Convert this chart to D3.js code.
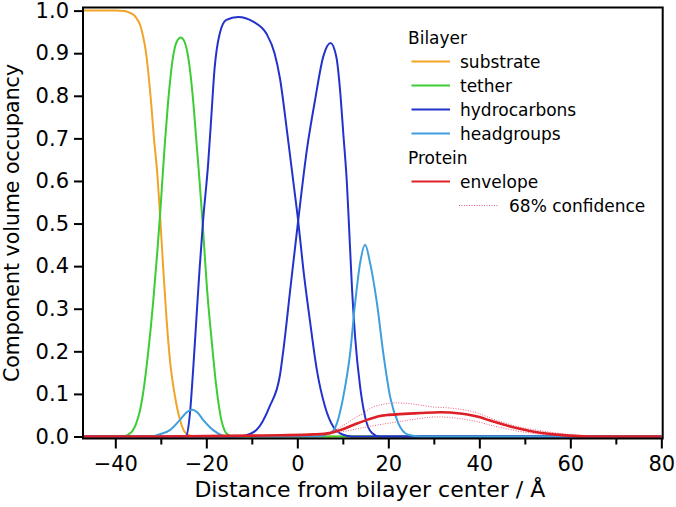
<!DOCTYPE html>
<html><head><meta charset="utf-8">
<script src="https://cdn.jsdelivr.net/npm/d3@7"></script>
<style>
html,body{margin:0;padding:0;background:#fff;}
text{font-family:"DejaVu Sans",sans-serif;fill:#000;}
</style></head>
<body>
<svg id="chart" width="676" height="507"></svg>
<script>
// ---- data (x in Å, y = volume occupancy) ----
const substrate = [[-47,1.0],[-40,1.0],[-38,0.999],[-37,0.996],[-36,0.99],[-35.4,0.983],[-34.5,0.965],[-33.9,0.94],[-33.3,0.905],[-32.8,0.86],[-32.1,0.78],[-31.5,0.70],[-30.8,0.62],[-30.1,0.508],[-29.5,0.40],[-28.8,0.285],[-27.9,0.17],[-26.9,0.095],[-25.8,0.04],[-24.7,0.01],[-23.5,0.002],[-22,0],[80,0]];
const tether = [[-47,0],[-38,0.001],[-37.2,0.004],[-36.3,0.012],[-35.4,0.031],[-34.6,0.06],[-33.9,0.101],[-32.8,0.195],[-31.7,0.313],[-30.8,0.43],[-30.2,0.515],[-29.7,0.595],[-29.1,0.69],[-28.4,0.785],[-27.3,0.892],[-26.5,0.927],[-25.6,0.937],[-24.8,0.927],[-24.0,0.892],[-22.9,0.79],[-22.2,0.696],[-21.5,0.602],[-20.9,0.515],[-20.4,0.435],[-19.9,0.355],[-18.9,0.234],[-17.8,0.117],[-16.7,0.039],[-15.9,0.012],[-15.2,0.004],[-14,0],[80,0]];
const hydrocarbonsInner = [[-47,0],[-25,0],[-24.4,0.002],[-23.6,0.054],[-22.9,0.156],[-22.2,0.273],[-21.5,0.39],[-20.7,0.508],[-19.6,0.64],[-18.9,0.751],[-18.2,0.862],[-17.1,0.944],[-15.6,0.978],[-13,0.985],[-9.7,0.974],[-6.8,0.946],[-5.0,0.9],[-3.8,0.84],[-2.3,0.72],[-0.9,0.6],[0.2,0.505],[1.3,0.395],[2.8,0.27],[4.3,0.156],[6.1,0.07],[7.9,0.023],[10.1,0.004],[12,0],[80,0]];
const hydrocarbonsOuter = [[-47,0],[-13,0],[-11.9,0.001],[-9,0.015],[-6.1,0.07],[-3.8,0.145],[-3.1,0.2],[-1.5,0.35],[0.2,0.508],[2.1,0.673],[3.9,0.79],[5.7,0.892],[7.3,0.924],[8.6,0.89],[9.5,0.8],[10.1,0.712],[10.9,0.594],[11.3,0.508],[12.0,0.352],[12.7,0.234],[13.8,0.117],[14.9,0.046],[16.4,0.008],[18,0],[80,0]];
const headgroups = [[-47,0],[-32,0],[-30.6,0.004],[-28,0.015],[-25.8,0.039],[-24.3,0.057],[-23.1,0.063],[-22,0.057],[-20.7,0.039],[-18.5,0.015],[-16.3,0.002],[-15,0],[4,0],[7.2,0.008],[8.7,0.031],[10.1,0.093],[11.6,0.195],[12.7,0.313],[13.8,0.407],[14.9,0.45],[16.0,0.407],[17.5,0.313],[18.9,0.195],[20.4,0.093],[22.2,0.031],[24.4,0.004],[27,0],[80,0]];
const envelope = [[-47,0],[-30,0],[-20,0.001],[-10,0.002],[-3.8,0.003],[3.5,0.005],[7.2,0.008],[9.4,0.015],[12.3,0.027],[15.3,0.039],[18.2,0.048],[21.8,0.052],[27,0.055],[31.4,0.057],[35.8,0.054],[38.2,0.05],[40.2,0.045],[42.2,0.038],[45.3,0.028],[48.9,0.018],[52.6,0.01],[56.3,0.005],[59.9,0.002],[63.6,0],[80,0]];
const confidenceUpper = [[-47,0],[-25,0.001],[-10,0.002],[0,0.003],[3.5,0.004],[7.2,0.011],[10.9,0.031],[12.5,0.043],[14.5,0.054],[16,0.066],[18.2,0.074],[21.8,0.079],[25.5,0.076],[29.2,0.07],[34.3,0.066],[38.7,0.058],[41.6,0.047],[43.8,0.038],[45.3,0.033],[48.9,0.022],[52.6,0.015],[56.3,0.009],[59.9,0.005],[63.6,0.002],[67,0],[80,0]];
const confidenceLower = [[-47,0],[-10,0.001],[3.5,0.002],[7.2,0.007],[10.9,0.013],[14.5,0.021],[18.2,0.028],[21.8,0.034],[25.5,0.04],[30.6,0.046],[35,0.043],[40.2,0.033],[43,0.025],[46,0.018],[48.9,0.012],[52,0.007],[56,0.003],[60,0.001],[64,0],[80,0]];

const xMajorTicks = [-40,-20,0,20,40,60,80];
const xMinorTicks = [-30,-10,10,30,50,70];
const yTicks = [0,0.1,0.2,0.3,0.4,0.5,0.6,0.7,0.8,0.9,1.0];
const xTitle = "Distance from bilayer center / Å";
const yTitle = "Component volume occupancy";
const legendRows = [
  {label:"Bilayer", kind:"header"},
  {label:"substrate", kind:"line", key:"substrate"},
  {label:"tether", kind:"line", key:"tether"},
  {label:"hydrocarbons", kind:"line", key:"hydrocarbons"},
  {label:"headgroups", kind:"line", key:"headgroups"},
  {label:"Protein", kind:"header"},
  {label:"envelope", kind:"line", key:"envelope"},
  {label:"68% confidence", kind:"dotted", key:"confidence"}
];

// ---- styles ----
const colors = {substrate:"#f2a428", tether:"#3ccc33", hydrocarbons:"#2233cc", headgroups:"#3d9fde", envelope:"#dd2027", confidence:"#e8607a"};

const svg = d3.select("#chart");
const L = 83, R = 662.7, T = 7.5, B = 438.5;
const x = d3.scaleLinear().domain([-47.1, 80.3]).range([L, R]);
const y = d3.scaleLinear().domain([-0.0047, 1.0073]).range([B, T]);

svg.append("defs").append("clipPath").attr("id","clip")
  .append("rect").attr("x",L).attr("y",T).attr("width",R-L).attr("height",B-T);

const line = d3.line().x(d=>x(d[0])).y(d=>y(d[1])).curve(d3.curveMonotoneX);
const g = svg.append("g").attr("clip-path","url(#clip)");

const series = [
  {data:substrate, c:colors.substrate, w:2},
  {data:tether, c:colors.tether, w:2},
  {data:hydrocarbonsInner, c:colors.hydrocarbons, w:2},
  {data:hydrocarbonsOuter, c:colors.hydrocarbons, w:2},
  {data:headgroups, c:colors.headgroups, w:2},
  {data:confidenceUpper, c:colors.confidence, w:1, dash:"1,1.5"},
  {data:confidenceLower, c:colors.confidence, w:1, dash:"1,1.5"},
  {data:envelope, c:colors.envelope, w:2.6}
];
series.forEach(s=>{
  g.append("path").datum(s.data).attr("d",line)
    .attr("fill","none").attr("stroke",s.c).attr("stroke-width",s.w)
    .attr("stroke-dasharray",s.dash||null).attr("stroke-linejoin","round");
});

// axes
const yAxis = d3.axisLeft(y).tickValues(yTicks).tickFormat(d3.format(".1f")).tickSize(9).tickPadding(5);
const ya = svg.append("g").attr("transform",`translate(${L},0)`).call(yAxis);
const xAxis = d3.axisBottom(x).tickValues(xMajorTicks).tickFormat(d3.format("d")).tickSize(10).tickPadding(8);
const xa = svg.append("g").attr("transform",`translate(0,${B})`).call(xAxis);
const xMinor = d3.axisBottom(x).tickValues(xMinorTicks).tickFormat("").tickSize(6);
const xm = svg.append("g").attr("transform",`translate(0,${B})`).call(xMinor);
[ya,xa,xm].forEach(a=>{
  a.select(".domain").remove();
  a.selectAll(".tick line").attr("stroke","#000").attr("stroke-width",2);
  a.selectAll("text").style("font-family","'DejaVu Sans',sans-serif").style("font-size","21px").attr("fill","#000");
});

// frame
svg.append("rect").attr("x",L).attr("y",T).attr("width",R-L).attr("height",B-T)
  .attr("fill","none").attr("stroke","#000").attr("stroke-width",2);

// titles
svg.append("text").attr("x",(L+R)/2 - 3).attr("y",497).attr("text-anchor","middle")
  .style("font-size","22px").text(xTitle);
svg.append("text").attr("transform","translate(19,223) rotate(-90)").attr("text-anchor","middle")
  .style("font-size","20.5px").text(yTitle);

// legend
const lg = svg.append("g");
legendRows.forEach((r,i)=>{
  const by = 43.5 + i*24;
  if(r.kind==="header"){
    lg.append("text").attr("x",408).attr("y",by).style("font-size","17px").text(r.label);
  } else if(r.kind==="line"){
    lg.append("line").attr("x1",411.5).attr("x2",450).attr("y1",by-6).attr("y2",by-6)
      .attr("stroke",colors[r.key]).attr("stroke-width",2);
    lg.append("text").attr("x",460).attr("y",by).style("font-size","17px").text(r.label);
  } else {
    lg.append("line").attr("x1",459).attr("x2",498).attr("y1",by-6).attr("y2",by-6)
      .attr("stroke",colors[r.key]).attr("stroke-width",1.2).attr("stroke-dasharray","1,1.5");
    lg.append("text").attr("x",509).attr("y",by).style("font-size","17px").text(r.label);
  }
});
</script>
</body></html>
